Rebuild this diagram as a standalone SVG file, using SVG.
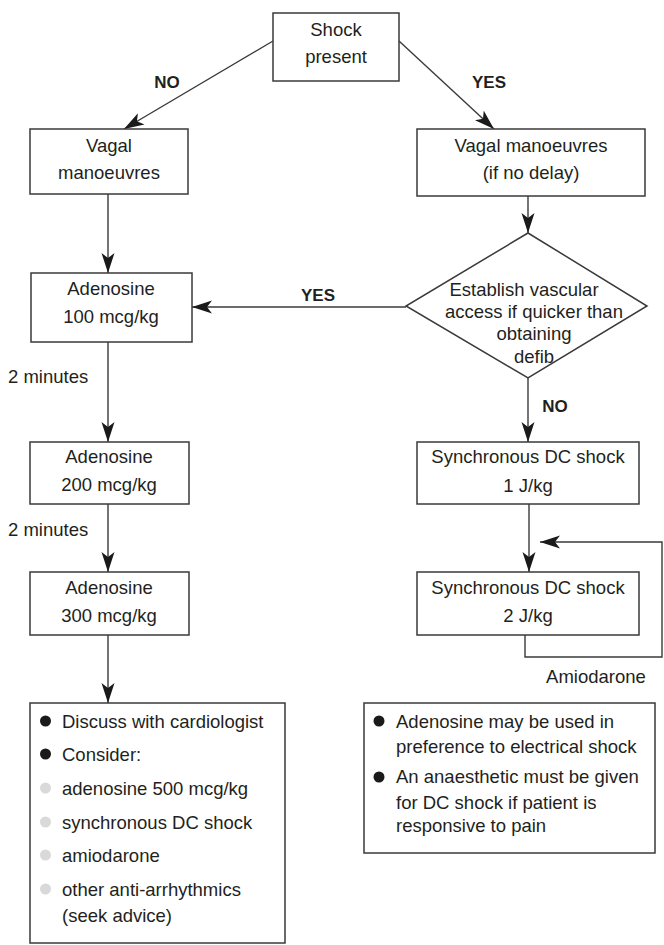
<svg xmlns="http://www.w3.org/2000/svg" width="664" height="945" viewBox="0 0 664 945">
<style>
text{font-family:"Liberation Sans",Arial,sans-serif;font-size:18.5px;fill:#231f20}
.c{text-anchor:middle}
.b{font-weight:bold;font-size:17px}
.box{fill:#fff;stroke:#3a3a3a;stroke-width:1.5}
.ln{fill:none;stroke:#3a3a3a;stroke-width:1.4}
.bk{fill:#1a1a1a}
.gy{fill:#d9d9d9}
</style>
<defs>
<marker id="ah" markerWidth="20" markerHeight="14" refX="20" refY="7" orient="auto" markerUnits="userSpaceOnUse">
<path d="M0,0.5 L20,7 L0,13.5 L5,7 z" fill="#1a1a1a"/>
</marker>
</defs>
<g id="connectors">
<line class="ln" x1="273" y1="41" x2="124" y2="129" marker-end="url(#ah)"/>
<line class="ln" x1="399" y1="41" x2="494" y2="129" marker-end="url(#ah)"/>
<line class="ln" x1="108" y1="194" x2="108" y2="273" marker-end="url(#ah)"/>
<line class="ln" x1="528" y1="196" x2="528" y2="233" marker-end="url(#ah)"/>
<line class="ln" x1="406" y1="307" x2="192" y2="307" marker-end="url(#ah)"/>
<line class="ln" x1="528" y1="378" x2="528" y2="442" marker-end="url(#ah)"/>
<line class="ln" x1="108" y1="342" x2="108" y2="442" marker-end="url(#ah)"/>
<line class="ln" x1="108" y1="504" x2="108" y2="572" marker-end="url(#ah)"/>
<line class="ln" x1="108" y1="635" x2="108" y2="703" marker-end="url(#ah)"/>
<line class="ln" x1="529" y1="504" x2="529" y2="572" marker-end="url(#ah)"/>
<polyline class="ln" points="525,635 525,657 662,657 662,542 540,542" marker-end="url(#ah)"/>
<text class="b" x="167" y="88" text-anchor="middle">NO</text>
<text class="b" x="489" y="88" text-anchor="middle">YES</text>
<text class="b" x="318" y="301" text-anchor="middle">YES</text>
<text class="b" x="555" y="412" text-anchor="middle">NO</text>
<text x="8" y="383">2 minutes</text>
<text x="8" y="536">2 minutes</text>
<text x="596" y="683" class="c">Amiodarone</text>
</g>
<g id="shock">
<rect class="box" x="273" y="13" width="126" height="68"/>
<text class="c" x="336" y="36">Shock</text>
<text class="c" x="336" y="63">present</text>
</g>
<g id="vagal-left">
<rect class="box" x="30" y="129" width="158" height="65"/>
<text class="c" x="109" y="152">Vagal</text>
<text class="c" x="109" y="179">manoeuvres</text>
</g>
<g id="vagal-right">
<rect class="box" x="417" y="129" width="228" height="67"/>
<text class="c" x="531" y="152">Vagal manoeuvres</text>
<text class="c" x="531" y="179">(if no delay)</text>
</g>
<g id="decision">
<polygon class="box" points="528,233 647,306 528,378 406,306"/>
<text class="c" x="524" y="296">Establish vascular</text>
<text class="c" x="534" y="318">access if quicker than</text>
<text class="c" x="534" y="340">obtaining</text>
<text class="c" x="534" y="363">defib</text>
</g>
<g id="adenosine-100">
<rect class="box" x="31" y="273" width="161" height="69"/>
<text class="c" x="111" y="295">Adenosine</text>
<text class="c" x="111" y="323">100 mcg/kg</text>
</g>
<g id="adenosine-200">
<rect class="box" x="30" y="442" width="159" height="62"/>
<text class="c" x="109" y="463">Adenosine</text>
<text class="c" x="109" y="491">200 mcg/kg</text>
</g>
<g id="adenosine-300">
<rect class="box" x="30" y="572" width="159" height="63"/>
<text class="c" x="109" y="594">Adenosine</text>
<text class="c" x="109" y="622">300 mcg/kg</text>
</g>
<g id="dc-1">
<rect class="box" x="417" y="442" width="222" height="62"/>
<text class="c" x="528" y="463">Synchronous DC shock</text>
<text class="c" x="528" y="492">1 J/kg</text>
</g>
<g id="dc-2">
<rect class="box" x="417" y="572" width="222" height="63"/>
<text class="c" x="528" y="594">Synchronous DC shock</text>
<text class="c" x="528" y="622">2 J/kg</text>
</g>
<g id="notes-left">
<rect class="box" x="30" y="703" width="255" height="240"/>
<circle class="bk" cx="45.5" cy="721" r="5.5"/>
<text x="62" y="728">Discuss with cardiologist</text>
<circle class="bk" cx="45.5" cy="754" r="5.5"/>
<text x="62" y="761">Consider:</text>
<circle class="gy" cx="45.5" cy="788" r="5.5"/>
<text x="62" y="795">adenosine 500 mcg/kg</text>
<circle class="gy" cx="45.5" cy="822" r="5.5"/>
<text x="62" y="829">synchronous DC shock</text>
<circle class="gy" cx="45.5" cy="855" r="5.5"/>
<text x="62" y="862">amiodarone</text>
<circle class="gy" cx="45.5" cy="889" r="5.5"/>
<text x="62" y="896">other anti-arrhythmics</text>
<text x="62" y="922">(seek advice)</text>
</g>
<g id="notes-right">
<rect class="box" x="364" y="703" width="291" height="150"/>
<circle class="bk" cx="379" cy="721" r="5.5"/>
<text x="396" y="728">Adenosine may be used in</text>
<text x="396" y="753">preference to electrical shock</text>
<circle class="bk" cx="379" cy="777" r="5.5"/>
<text x="396" y="783">An anaesthetic must be given</text>
<text x="396" y="809">for DC shock if patient is</text>
<text x="396" y="832">responsive to pain</text>
</g>
</svg>
